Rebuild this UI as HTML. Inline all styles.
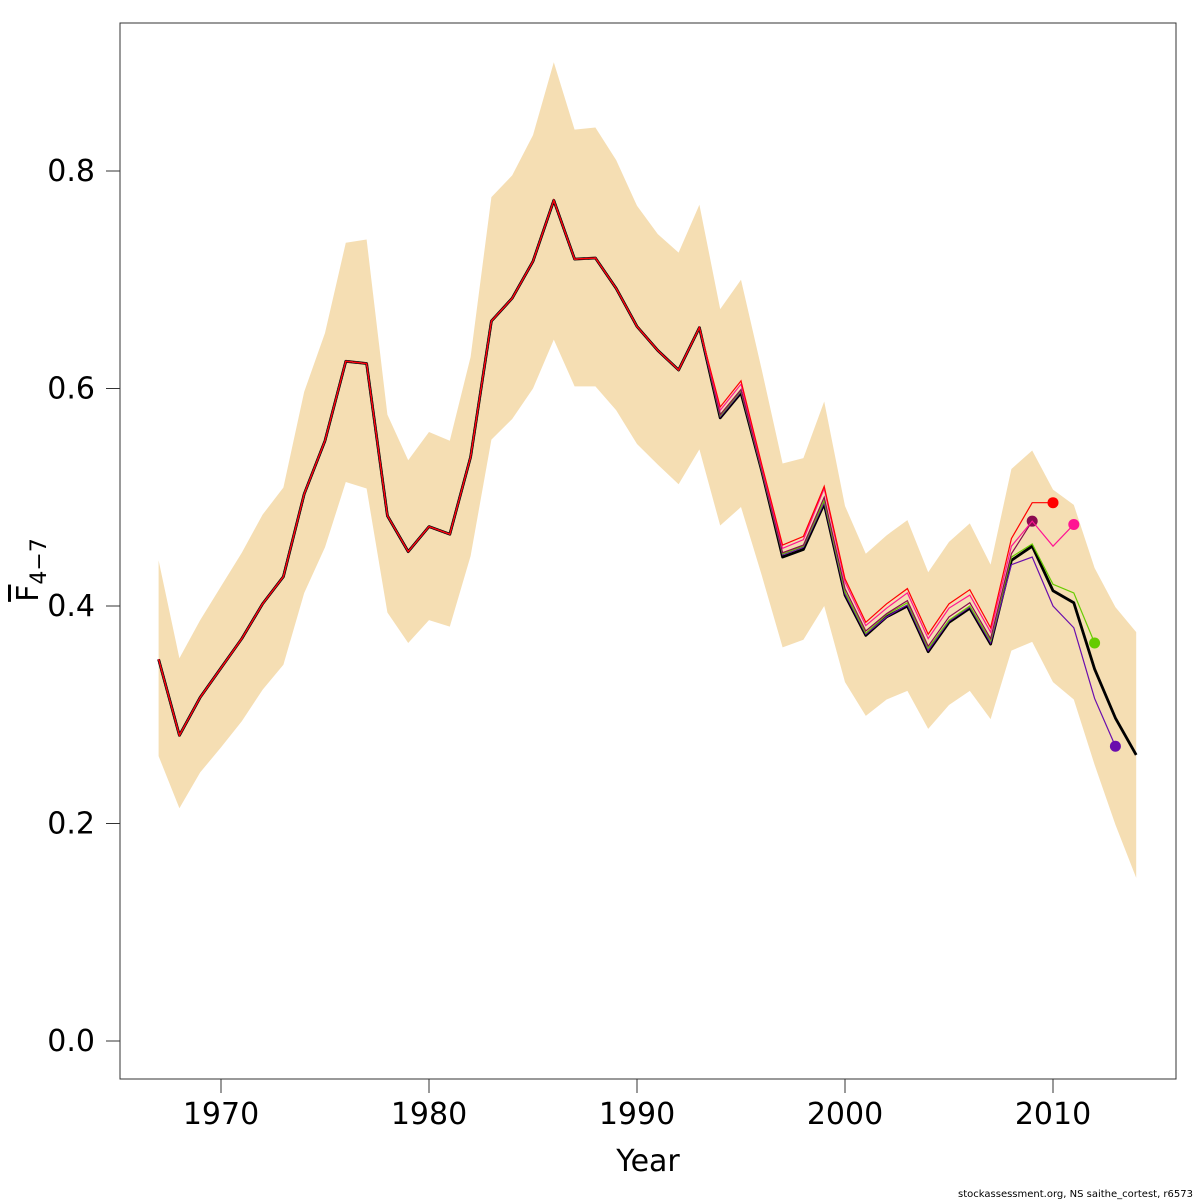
<!DOCTYPE html>
<html><head><meta charset="utf-8"><style>
html,body{margin:0;padding:0;background:#fff;}
svg{display:block;font-family:"DejaVu Sans","Liberation Sans",sans-serif;}
</style></head><body>
<svg id="chart" width="1200" height="1200" viewBox="0 0 1200 1200">
<rect x="0" y="0" width="1200" height="1200" fill="#fff"/>
<g id="band"></g>
<g id="lines"></g>
<rect x="120" y="23" width="1056" height="1056" fill="none" stroke="#333" stroke-width="1"/>
<g id="axes"></g>
<text x="648" y="1171" font-size="30" text-anchor="middle">Year</text>
<text transform="translate(38,570) rotate(-90)" font-size="30" text-anchor="middle"><tspan text-decoration="overline">F</tspan><tspan font-size="22" dy="8">4−7</tspan></text>
<text x="1193" y="1197" font-size="10" text-anchor="end">stockassessment.org, NS saithe_cortest, r6573</text>
</svg>
<script>
const years = [1967,1968,1969,1970,1971,1972,1973,1974,1975,1976,1977,1978,1979,1980,1981,1982,1983,1984,1985,1986,1987,1988,1989,1990,1991,1992,1993,1994,1995,1996,1997,1998,1999,2000,2001,2002,2003,2004,2005,2006,2007,2008,2009,2010,2011,2012,2013,2014];
const baseF = [0.351,0.281,0.316,0.343,0.370,0.402,0.427,0.503,0.552,0.625,0.623,0.483,0.450,0.473,0.466,0.537,0.662,0.683,0.717,0.773,0.719,0.720,0.692,0.657,0.635,0.617,0.656,0.573,0.596,0.524,0.445,0.452,0.494,0.410,0.373,0.390,0.400,0.358,0.385,0.398,0.365,0.442,0.455,0.414,0.403,0.342,0.297,0.263];
const upperF = [0.442,0.352,0.387,0.418,0.449,0.484,0.509,0.597,0.651,0.734,0.737,0.576,0.534,0.560,0.552,0.629,0.776,0.796,0.833,0.900,0.838,0.840,0.810,0.768,0.742,0.725,0.769,0.673,0.700,0.617,0.531,0.536,0.588,0.492,0.448,0.465,0.479,0.431,0.459,0.476,0.438,0.526,0.543,0.507,0.493,0.435,0.399,0.376];
const lowerF = [0.262,0.214,0.247,0.270,0.294,0.323,0.346,0.412,0.454,0.514,0.508,0.394,0.366,0.387,0.381,0.446,0.553,0.572,0.600,0.645,0.602,0.602,0.580,0.549,0.530,0.512,0.544,0.474,0.491,0.428,0.362,0.369,0.400,0.330,0.299,0.314,0.322,0.287,0.309,0.322,0.296,0.359,0.367,0.330,0.314,0.254,0.199,0.150];
// retrospective peels: values from 1994 onward (earlier years follow baseF)
const peelStart = 1994;
const peel2009 = [0.576,0.599,0.526,0.449,0.456,0.500,0.416,0.377,0.393,0.405,0.363,0.390,0.403,0.370,0.448,0.478];
const peel2010 = [0.583,0.607,0.530,0.456,0.464,0.510,0.425,0.385,0.402,0.416,0.374,0.402,0.415,0.380,0.462,0.495,0.495];
const peel2011 = [0.580,0.604,0.528,0.453,0.461,0.508,0.422,0.382,0.398,0.412,0.370,0.398,0.410,0.376,0.455,0.478,0.455,0.475];
const peel2012 = [0.575,0.598,0.525,0.448,0.455,0.497,0.413,0.375,0.392,0.403,0.361,0.387,0.400,0.368,0.445,0.457,0.420,0.412,0.366];
const peel2013 = [0.574,0.597,0.524,0.447,0.454,0.495,0.411,0.374,0.390,0.401,0.359,0.386,0.399,0.366,0.438,0.445,0.400,0.380,0.315,0.271];
const xTicks = [1970,1980,1990,2000,2010];
const yTicks = [0,0.2,0.4,0.6,0.8];
const yTickLabels = ["0.0","0.2","0.4","0.6","0.8"];

const NS="http://www.w3.org/2000/svg";
function X(yr){return 221+(yr-1970)*20.8;}
function Y(v){return 1041-v*1087.5;}
function mk(tag,attrs,parent){const e=document.createElementNS(NS,tag);for(const k in attrs)e.setAttribute(k,attrs[k]);parent.appendChild(e);return e;}

const band=document.getElementById('band');
let d='';
years.forEach((yr,i)=>{d+=(i?'L':'M')+X(yr)+','+Y(upperF[i]);});
for(let i=years.length-1;i>=0;i--){d+='L'+X(years[i])+','+Y(lowerF[i]);}
const bp=mk('path',{d:d+'Z',fill:'#F5DEB3'},band);



const lines=document.getElementById('lines');
const bl=mk('polyline',{points:years.map((yr,i)=>X(yr)+','+Y(baseF[i])).join(' '),fill:'none',stroke:'#000','stroke-width':2.8,'stroke-linejoin':'round'},lines);


const peels=[
 {vals:peel2013,color:'#6A0DAD',name:'peel-2013'},
 {vals:peel2012,color:'#66CC00',name:'peel-2012'},
 {vals:peel2009,color:'#8B0A50',name:'peel-2009'},
 {vals:peel2011,color:'#FF1493',name:'peel-2011'},
 {vals:peel2010,color:'#FF0000',name:'peel-2010'}
];
const startIdx=years.indexOf(peelStart);
peels.forEach(p=>{
  const ys=years.slice(0,startIdx+p.vals.length);
  const vs=baseF.slice(0,startIdx).concat(p.vals);
  const pts=ys.map((yr,i)=>X(yr)+','+Y(vs[i])).join(' ');
  const pl=mk('polyline',{points:pts,fill:'none',stroke:p.color,'stroke-width':1.2},lines);
  
  
  const last=ys.length-1;
  const c=mk('circle',{cx:X(ys[last]),cy:Y(vs[last]),r:5.5,fill:p.color},lines);
  
  
});

const axes=document.getElementById('axes');
xTicks.forEach(t=>{
  const l=mk('line',{x1:X(t),x2:X(t),y1:1079,y2:1093,stroke:'#333'},axes);
  
  
  const tx=mk('text',{x:X(t),y:1124,'font-size':30,'text-anchor':'middle'},axes);
  tx.textContent=t;
  
  
});
yTicks.forEach((t,i)=>{
  const l=mk('line',{x1:106,x2:120,y1:Y(t),y2:Y(t),stroke:'#333'},axes);
  
  
  const tx=mk('text',{x:95,y:Y(t)+10,'font-size':30,'text-anchor':'end'},axes);
  tx.textContent=yTickLabels[i];
  
  
});
</script>
</body></html>
